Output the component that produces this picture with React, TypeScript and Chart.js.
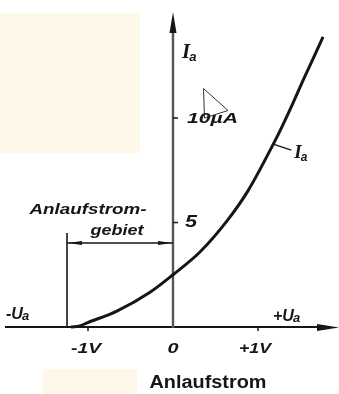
import { useEffect, useRef } from 'react';
import { Chart, registerables } from 'chart.js';

Chart.register(...registerables);

// Anode voltage (V) and anode current (µA) read from the characteristic
const voltages = [-1.2, -1.1, -1.01, -0.66, -0.27, 0, 0.32, 0.64, 0.88, 1.18, 1.29, 1.41, 1.53, 1.65, 1.765];
const currents = [0, 0.05, 0.2, 0.76, 1.66, 2.5, 3.6, 5.1, 6.5, 8.75, 9.65, 10.7, 11.8, 12.85, 13.88];

const xTicks = [-1, 0, 1];
const xTickLabels = ['-1V', '0', '+1V'];
const yTicks = [5, 10];
const yTickLabels = ['5', '10µA'];

const regionStart = -1.247; // start of Anlaufstromgebiet (V)
const regionTop = 4.5; // height of region marker (µA)
const regionArrowLevel = 4.02; // level of the double arrow (µA)
const labelPointIndex = 9; // curve point where the I_a label leader starts

const title = 'Anlaufstrom';
const regionLabel1 = 'Anlaufstrom-';
const regionLabel2 = 'gebiet';

const INK = '#161616';

function fitText(ctx: CanvasRenderingContext2D, text: string, x: number, y: number, font: string, width: number, align: CanvasTextAlign = 'center') {
  ctx.save();
  ctx.font = font;
  const w = ctx.measureText(text).width;
  const s = width / w;
  ctx.translate(x, y);
  ctx.scale(s, 1);
  ctx.textAlign = align;
  ctx.textBaseline = 'middle';
  ctx.fillStyle = INK;
  ctx.fillText(text, 0, 0);
  ctx.restore();
}

function subLabel(ctx: CanvasRenderingContext2D, main: string, sub: string, x: number, y: number, mainFont: string, subFont: string, dy: number) {
  ctx.save();
  ctx.fillStyle = INK;
  ctx.textBaseline = 'alphabetic';
  ctx.textAlign = 'left';
  ctx.font = mainFont;
  ctx.fillText(main, x, y);
  const w = ctx.measureText(main).width;
  ctx.font = subFont;
  ctx.fillText(sub, x + w - 1, y + dy);
  ctx.restore();
}

function arrowHead(ctx: CanvasRenderingContext2D, tipX: number, tipY: number, dx: number, dy: number, len: number, half: number) {
  const bx = tipX - dx * len;
  const by = tipY - dy * len;
  ctx.beginPath();
  ctx.moveTo(tipX, tipY);
  ctx.lineTo(bx - dy * half, by + dx * half);
  ctx.lineTo(bx + dy * half, by - dx * half);
  ctx.closePath();
  ctx.fill();
}

const decor = {
  id: 'decor',
  beforeDraw(chart: any) {
    const ctx: CanvasRenderingContext2D = chart.ctx;
    ctx.save();
    ctx.fillStyle = '#ffffff';
    ctx.fillRect(0, 0, chart.width, chart.height);
    ctx.fillStyle = '#fdf8ea';
    ctx.fillRect(0, 13, 140, 140);
    ctx.fillRect(43, 369, 94, 25);
    ctx.restore();
  },
  beforeDatasetsDraw(chart: any) {
    const ctx: CanvasRenderingContext2D = chart.ctx;
    const xs = chart.scales.x;
    const ys = chart.scales.y;
    const x0 = xs.getPixelForValue(0);
    const y0 = ys.getPixelForValue(0);
    ctx.save();
    // x axis
    ctx.strokeStyle = INK;
    ctx.lineWidth = 2.2;
    ctx.beginPath();
    ctx.moveTo(5, y0);
    ctx.lineTo(324, y0);
    ctx.stroke();
    ctx.fillStyle = INK;
    arrowHead(ctx, 339, y0 + 0.5, 1, 0, 22, 3.5);
    // y axis
    ctx.strokeStyle = '#555';
    ctx.lineWidth = 2.4;
    ctx.beginPath();
    ctx.moveTo(x0, y0 + 1);
    ctx.lineTo(x0, 28);
    ctx.stroke();
    ctx.fillStyle = INK;
    arrowHead(ctx, x0, 12, 0, -1, 21, 3.5);
    // ticks
    ctx.strokeStyle = INK;
    ctx.lineWidth = 1.5;
    xTicks.forEach((v) => {
      if (v === 0) return;
      const px = xs.getPixelForValue(v);
      ctx.beginPath();
      ctx.moveTo(px, y0);
      ctx.lineTo(px, y0 + 4);
      ctx.stroke();
    });
    yTicks.forEach((v) => {
      const py = ys.getPixelForValue(v);
      ctx.beginPath();
      ctx.moveTo(x0, py);
      ctx.lineTo(x0 + 5, py);
      ctx.stroke();
    });
    // region marker
    const rx = xs.getPixelForValue(regionStart);
    ctx.lineWidth = 1.6;
    ctx.beginPath();
    ctx.moveTo(rx, ys.getPixelForValue(regionTop));
    ctx.lineTo(rx, y0);
    ctx.stroke();
    const ay = ys.getPixelForValue(regionArrowLevel);
    ctx.lineWidth = 1.4;
    ctx.beginPath();
    ctx.moveTo(rx, ay);
    ctx.lineTo(x0, ay);
    ctx.stroke();
    arrowHead(ctx, rx + 1, ay, -1, 0, 14, 2);
    arrowHead(ctx, x0 - 1, ay, 1, 0, 14, 2);
    ctx.restore();
  },
  afterDatasetsDraw(chart: any) {
    const ctx: CanvasRenderingContext2D = chart.ctx;
    const xs = chart.scales.x;
    const ys = chart.scales.y;
    const x0 = xs.getPixelForValue(0);
    const y0 = ys.getPixelForValue(0);
    ctx.save();
    // cursor artefact
    ctx.fillStyle = '#ffffff';
    ctx.strokeStyle = '#333';
    ctx.lineWidth = 1;
    ctx.beginPath();
    ctx.moveTo(203.5, 88.5);
    ctx.lineTo(204.5, 118);
    ctx.lineTo(228, 110.5);
    ctx.closePath();
    ctx.fill();
    ctx.stroke();

    // leader for curve label
    const lx = xs.getPixelForValue(voltages[labelPointIndex]);
    const ly = ys.getPixelForValue(currents[labelPointIndex]);
    ctx.strokeStyle = INK;
    ctx.lineWidth = 1.3;
    ctx.beginPath();
    ctx.moveTo(lx, ly);
    ctx.lineTo(lx + 18, ly + 6);
    ctx.stroke();
    ctx.restore();

    const itF = 'italic bold 14px "Liberation Sans"';
    xTicks.forEach((v, i) => {
      const px = xs.getPixelForValue(v);
      const widths = [30, 11, 32];
      fitText(ctx, xTickLabels[i], px + (v > 0 ? -3 : v < 0 ? -2 : 0), y0 + 22, itF, widths[i]);
    });
    fitText(ctx, yTickLabels[0], x0 + 12, ys.getPixelForValue(yTicks[0]), 'italic bold 16px "Liberation Sans"', 12, 'left');
    fitText(ctx, yTickLabels[1], x0 + 14, ys.getPixelForValue(yTicks[1]) + 1, 'italic bold 14px "Liberation Sans"', 51, 'left');

    subLabel(ctx, 'I', 'a', x0 + 9, 58, 'italic bold 21px "Liberation Serif"', 'italic bold 13px "Liberation Sans"', 3);
    subLabel(ctx, 'I', 'a', lx + 21, ly + 14, 'italic bold 19px "Liberation Serif"', 'italic bold 12px "Liberation Sans"', 3);
    subLabel(ctx, '-U', 'a', 6, y0 - 8, 'italic bold 16px "Liberation Sans"', 'italic bold 13px "Liberation Sans"', 1);
    subLabel(ctx, '+U', 'a', 273, y0 - 6, 'italic bold 16px "Liberation Sans"', 'italic bold 13px "Liberation Sans"', 1);

    fitText(ctx, regionLabel1, 88, 210, 'italic bold 15px "Liberation Sans"', 117);
    fitText(ctx, regionLabel2, 117, 231, 'italic bold 14px "Liberation Sans"', 53);

    fitText(ctx, title, 208, 383, 'bold 18px "Liberation Sans"', 117);
  },
};

export default function App() {
  const ref = useRef<HTMLCanvasElement>(null);
  useEffect(() => {
    document.body.style.margin = '0';
    const chart = new Chart(ref.current as HTMLCanvasElement, {
      type: 'scatter',
      data: {
        datasets: [
          {
            label: 'Ia',
            data: voltages.map((v, i) => ({ x: v, y: currents[i] })),
            showLine: true,
            borderColor: INK,
            borderWidth: 3,
            pointRadius: 0,
            cubicInterpolationMode: 'monotone',
            fill: false,
          } as any,
        ],
      },
      options: {
        responsive: false,
        animation: false,
        layout: { padding: 0 },
        plugins: { legend: { display: false }, tooltip: { enabled: false }, title: { display: false } },
        scales: {
          x: { type: 'linear', min: -173 / 85, max: (339 - 173) / 85, display: false },
          y: { type: 'linear', min: -(394 - 327) / 20.9, max: 327 / 20.9, display: false },
        },
      },
      plugins: [decor],
    });
    return () => chart.destroy();
  }, []);
  return (
    <div style={{ width: 339, height: 394 }}>
      <canvas ref={ref} width={339} height={394} style={{ display: 'block' }} />
    </div>
  );
}
